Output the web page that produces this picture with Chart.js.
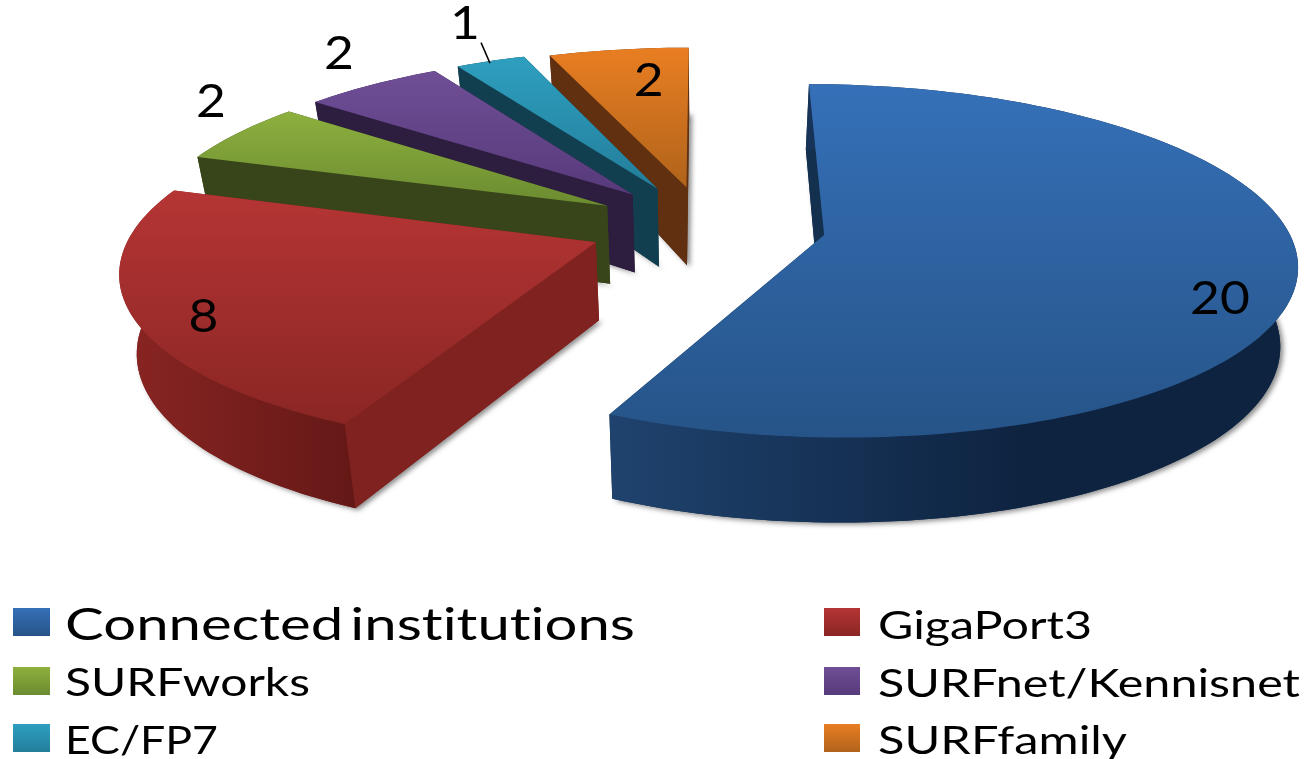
<!DOCTYPE html>
<html lang="en">
<head>
    <meta charset="UTF-8" />
    <title>Connected institutions</title>
    <script src="https://cdn.jsdelivr.net/npm/chart.js"></script>
    <style>
        body {
            margin: 0;
            background: #fff;
            overflow: hidden;
            font-family: Lato, "Open Sans", sans-serif;
            color: #000;
        }
        #wrap { position: relative; width: 1307px; height: 759px; }
        canvas { position: absolute; left: 0; top: 0; filter: blur(0.5px); }
        .swatch { position: absolute; }
        .item {
            position: absolute;
            white-space: nowrap;
            line-height: 1;
            transform-origin: 0 0;
            filter: blur(0.3px);
            font-variant-ligatures: none;
        }
    </style>
</head>
<body>
    <div id="wrap">
        <canvas id="pie" width="1307" height="759"></canvas>
    </div>

    <script>
        const categories = ['Connected institutions', 'GigaPort3', 'SURFworks', 'SURFnet/Kennisnet', 'EC/FP7', 'SURFfamily'];
        const values = [20, 8, 2, 2, 1, 2];

        // top face gradient, start/end wall, outer wall left and right
        const topLight = ['#3570b8', '#b53534', '#8db03e', '#6f4e96', '#2e9fc0', '#e97e22'];
        const topDark = ['#265488', '#8a2624', '#6b8b30', '#573a7b', '#237e9a', '#b0631b'];
        const wallFlat = ['#14304f', '#80221f', '#38451a', '#2d1d3f', '#123f50', '#603010'];
        const wallLeft = ['#1f436e', '#8a2523', '#38451a', '#2d1d3f', '#123f50', '#603010'];
        const wallRight = ['#0e2340', '#5c1614', '#38451a', '#2d1d3f', '#123f50', '#603010'];
        const explode = [88, 85, 82, 82, 82, 78];

        // where the flat pie lands on the page (perspective fitted by eye)
        const view = { cx: 705, cy: 225, ax: 462, by: 170, persp: 0.145, depth: 78, fall: 0.18, floor: 0.97 };

        function project(u, v) {
            const w = 1 - view.persp * v;
            return { x: view.cx + view.ax * u / w, y: view.cy + view.by * v / w };
        }

        // number positions, in pie radii from the centre
        const labelU = [1.048, -1.006, -1.194, -0.928, -0.627, -0.139];
        const labelV = [0.412, 0.505, -0.804, -1.18, -1.425, -0.965];

        function slicePoints(el) {
            const p = el.getProps(['x', 'y', 'startAngle', 'endAngle', 'outerRadius']);
            const R = p.outerRadius;
            const mid = (p.startAngle + p.endAngle) / 2;
            const ou = Math.cos(mid) * el.options.offset / R;
            const ov = Math.sin(mid) * el.options.offset / R;
            const n = Math.max(6, Math.round((p.endAngle - p.startAngle) * 40));
            const rim = [];
            // the lower face sits a little narrower than the top one
            const floorX = x => view.cx + (x - view.cx) * view.floor;
            for (let i = 0; i <= n; i++) {
                const a = p.startAngle + (p.endAngle - p.startAngle) * i / n;
                const lu = Math.cos(a), lv = Math.sin(a);
                const t = project(ou + lu, ov + lv);
                const d = lv < 0 ? view.depth * Math.exp(view.fall * lv) : view.depth + 7 * lv;
                rim.push({ x: t.x, y: t.y, bx: floorX(t.x), by: t.y + d });
            }
            const a0 = project(ou, ov);
            const apex = { x: a0.x, y: a0.y, bx: floorX(a0.x), by: a0.y + view.depth };
            return { apex, rim };
        }

        function poly(ctx, pts) {
            ctx.beginPath();
            pts.forEach((q, i) => (i ? ctx.lineTo(q.x, q.y) : ctx.moveTo(q.x, q.y)));
            ctx.closePath();
        }

        const pie3d = {
            id: 'pie3d',
            beforeDatasetsDraw(chart) {
                const ctx = chart.ctx;
                const arcs = chart.getDatasetMeta(0).data;
                // back slices first
                for (let i = arcs.length - 1; i >= 0; i--) {
                    const { apex, rim } = slicePoints(arcs[i]);
                    const first = rim[0], last = rim[rim.length - 1];
                    const bottom = q => ({ x: q.bx, y: q.by });
                    const minY = Math.min(...rim.map(q => q.y), apex.y);
                    const maxY = Math.max(...rim.map(q => q.y), apex.y);
                    const minX = Math.min(...rim.map(q => q.x), apex.x);
                    const maxX = Math.max(...rim.map(q => q.x), apex.x);

                    // soft shadow, from the bottom face only
                    ctx.save();
                    ctx.shadowColor = 'rgba(0,0,0,0.45)';
                    ctx.shadowBlur = 5;
                    ctx.shadowOffsetX = 3;
                    ctx.shadowOffsetY = 2;
                    ctx.fillStyle = wallFlat[i];
                    poly(ctx, [bottom(apex)].concat(rim.map(bottom)));
                    ctx.fill();
                    ctx.restore();

                    // the two cut walls
                    ctx.fillStyle = wallFlat[i];
                    poly(ctx, [apex, bottom(apex), bottom(first), first]);
                    ctx.fill();
                    poly(ctx, [apex, bottom(apex), bottom(last), last]);
                    ctx.fill();

                    // outer wall
                    const g = ctx.createLinearGradient(minX, 0, maxX, 0);
                    g.addColorStop(0, wallLeft[i]);
                    g.addColorStop(0.6, wallRight[i]);
                    g.addColorStop(1, wallRight[i]);
                    ctx.fillStyle = g;
                    poly(ctx, rim.concat(rim.map(bottom).reverse()));
                    ctx.fill();

                    // top face
                    const t = ctx.createLinearGradient(0, minY, 0, maxY);
                    t.addColorStop(0, topLight[i]);
                    t.addColorStop(1, topDark[i]);
                    ctx.fillStyle = t;
                    poly(ctx, [apex].concat(rim));
                    ctx.fill();
                }
                return false;
            },
            afterDraw(chart) {
                const ctx = chart.ctx;
                ctx.save();
                ctx.fillStyle = '#000';
                ctx.textAlign = 'center';
                ctx.textBaseline = 'middle';
                ctx.font = '46px Lato';
                values.forEach((val, i) => {
                    const q = project(labelU[i], labelV[i]);
                    ctx.save();
                    ctx.translate(q.x, q.y);
                    ctx.scale(1.12, 1);
                    ctx.fillText(String(val), 0, 0);
                    ctx.restore();
                });
                // leader line of the small slice
                const a = project(-0.574, -1.27), b = project(-0.54, -1.105);
                ctx.strokeStyle = '#000';
                ctx.lineWidth = 1.5;
                ctx.beginPath();
                ctx.moveTo(a.x, a.y);
                ctx.lineTo(b.x, b.y);
                ctx.stroke();
                ctx.restore();
            }
        };

        new Chart(document.getElementById('pie'), {
            type: 'pie',
            data: {
                labels: categories,
                datasets: [{
                    data: values,
                    backgroundColor: topLight,
                    borderWidth: 0,
                    offset: explode
                }]
            },
            options: {
                responsive: false,
                animation: false,
                plugins: { legend: { display: false }, tooltip: { enabled: false } }
            },
            plugins: [pie3d]
        });

        // legend, text stretched to the width it has in the picture
        const legendX = [13, 824, 13, 824, 13, 824];
        const legendW = [37, 36, 37, 36, 37, 36];
        const legendY = [608, 608, 667, 667, 724, 724];
        const textX = [65, 878, 65, 878, 65, 878];
        const textW = [570, 214, 245, 422, 153, 249];
        const textBase = [639, 637, 694, 695, 752, 752];
        const textSize = [45, 38, 38, 38, 38, 38];

        const wrap = document.getElementById('wrap');
        categories.forEach((name, i) => {
            const sw = document.createElement('div');
            sw.className = 'swatch';
            sw.style.cssText = `left:${legendX[i]}px;top:${legendY[i]}px;width:${legendW[i]}px;height:28px;` +
                `background:linear-gradient(${topLight[i]},${topDark[i]})`;
            wrap.appendChild(sw);

            const tx = document.createElement('div');
            tx.className = 'item';
            tx.textContent = name;
            tx.style.fontSize = textSize[i] + 'px';
            tx.style.left = textX[i] + 'px';
            // Lato baseline sits about 0.85em below the line box top
            tx.style.top = (textBase[i] - textSize[i] * 0.85) + 'px';
            if (i === 0) tx.style.wordSpacing = '-6px';
            wrap.appendChild(tx);
            const scale = textW[i] / tx.getBoundingClientRect().width;
            tx.style.transform = `scaleX(${scale})`;
        });
    </script>
</body>
</html>
